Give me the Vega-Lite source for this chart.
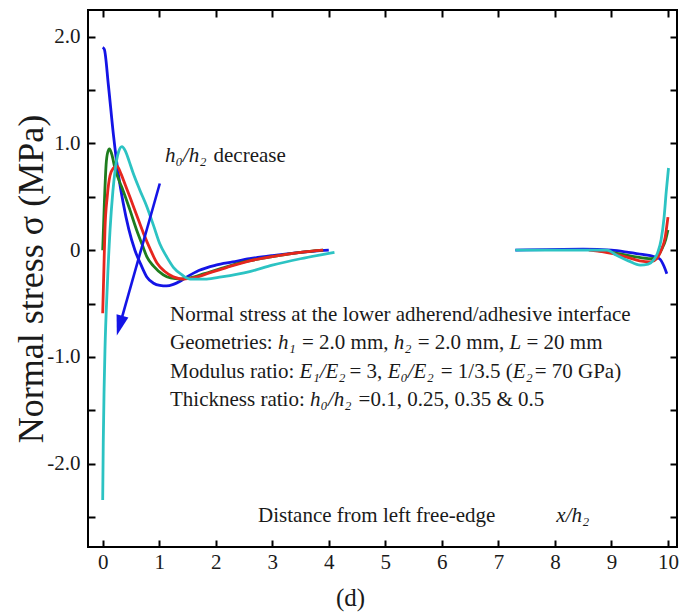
{
  "$schema": "https://vega.github.io/schema/vega-lite/v6.json",
  "width": 589,
  "height": 537,
  "autosize": "none",
  "padding": {"left": 88, "top": 10, "right": 5, "bottom": 67},
  "background": "white",
  "config": {
    "view": {"stroke": "black", "strokeWidth": 2},
    "font": "Liberation Serif",
    "axis": {
      "domain": false,
      "grid": false,
      "offset": -7,
      "tickColor": "black",
      "tickWidth": 2,
      "tickSize": 7,
      "labelFont": "Liberation Serif",
      "labelFontSize": 21,
      "labelColor": "#1a1a1a",
      "labelPadding": 8,
      "labelFlush": false,
      "labelOverlap": false,
      "labelBound": false,
      "titleFont": "Liberation Serif",
      "titleFontWeight": "normal",
      "titleColor": "#1a1a1a"
    },
    "text": {"font": "Liberation Serif", "fontSize": 21, "color": "#1a1a1a"}
  },
  "datasets": {
    "curves": [
      {"ratio": "0.1", "part": "L", "x": 0.0, "y": 1.90},
      {"ratio": "0.1", "part": "L", "x": 0.03, "y": 1.88},
      {"ratio": "0.1", "part": "L", "x": 0.1, "y": 1.55},
      {"ratio": "0.1", "part": "L", "x": 0.19, "y": 1.08},
      {"ratio": "0.1", "part": "L", "x": 0.28, "y": 0.70},
      {"ratio": "0.1", "part": "L", "x": 0.36, "y": 0.45},
      {"ratio": "0.1", "part": "L", "x": 0.46, "y": 0.20},
      {"ratio": "0.1", "part": "L", "x": 0.57, "y": 0.0},
      {"ratio": "0.1", "part": "L", "x": 0.68, "y": -0.14},
      {"ratio": "0.1", "part": "L", "x": 0.78, "y": -0.25},
      {"ratio": "0.1", "part": "L", "x": 0.9, "y": -0.31},
      {"ratio": "0.1", "part": "L", "x": 1.01, "y": -0.33},
      {"ratio": "0.1", "part": "L", "x": 1.13, "y": -0.335},
      {"ratio": "0.1", "part": "L", "x": 1.25, "y": -0.32},
      {"ratio": "0.1", "part": "L", "x": 1.37, "y": -0.29},
      {"ratio": "0.1", "part": "L", "x": 1.49, "y": -0.25},
      {"ratio": "0.1", "part": "L", "x": 1.7, "y": -0.19},
      {"ratio": "0.1", "part": "L", "x": 2.0, "y": -0.14},
      {"ratio": "0.1", "part": "L", "x": 2.3, "y": -0.11},
      {"ratio": "0.1", "part": "L", "x": 2.6, "y": -0.08},
      {"ratio": "0.1", "part": "L", "x": 3.0, "y": -0.05},
      {"ratio": "0.1", "part": "L", "x": 3.5, "y": -0.02},
      {"ratio": "0.1", "part": "L", "x": 4.0, "y": 0.0},
      {"ratio": "0.1", "part": "R", "x": 7.3, "y": 0.0},
      {"ratio": "0.1", "part": "R", "x": 8.5, "y": 0.01},
      {"ratio": "0.1", "part": "R", "x": 9.0, "y": 0.0},
      {"ratio": "0.1", "part": "R", "x": 9.3, "y": -0.02},
      {"ratio": "0.1", "part": "R", "x": 9.55, "y": -0.04},
      {"ratio": "0.1", "part": "R", "x": 9.75, "y": -0.06},
      {"ratio": "0.1", "part": "R", "x": 9.85, "y": -0.08},
      {"ratio": "0.1", "part": "R", "x": 9.93, "y": -0.15},
      {"ratio": "0.1", "part": "R", "x": 9.98, "y": -0.22},
      {"ratio": "0.25", "part": "L", "x": 0.0, "y": 0.0},
      {"ratio": "0.25", "part": "L", "x": 0.03, "y": 0.45},
      {"ratio": "0.25", "part": "L", "x": 0.06, "y": 0.8},
      {"ratio": "0.25", "part": "L", "x": 0.09, "y": 0.92},
      {"ratio": "0.25", "part": "L", "x": 0.12, "y": 0.95},
      {"ratio": "0.25", "part": "L", "x": 0.16, "y": 0.9},
      {"ratio": "0.25", "part": "L", "x": 0.22, "y": 0.76},
      {"ratio": "0.25", "part": "L", "x": 0.3, "y": 0.64},
      {"ratio": "0.25", "part": "L", "x": 0.36, "y": 0.56},
      {"ratio": "0.25", "part": "L", "x": 0.48, "y": 0.38},
      {"ratio": "0.25", "part": "L", "x": 0.6, "y": 0.19},
      {"ratio": "0.25", "part": "L", "x": 0.7, "y": 0.05},
      {"ratio": "0.25", "part": "L", "x": 0.78, "y": -0.06},
      {"ratio": "0.25", "part": "L", "x": 0.9, "y": -0.15},
      {"ratio": "0.25", "part": "L", "x": 1.07, "y": -0.23},
      {"ratio": "0.25", "part": "L", "x": 1.2, "y": -0.26},
      {"ratio": "0.25", "part": "L", "x": 1.37, "y": -0.27},
      {"ratio": "0.25", "part": "L", "x": 1.55, "y": -0.26},
      {"ratio": "0.25", "part": "L", "x": 1.8, "y": -0.22},
      {"ratio": "0.25", "part": "L", "x": 2.1, "y": -0.17},
      {"ratio": "0.25", "part": "L", "x": 2.5, "y": -0.11},
      {"ratio": "0.25", "part": "L", "x": 3.0, "y": -0.06},
      {"ratio": "0.25", "part": "L", "x": 3.5, "y": -0.02},
      {"ratio": "0.25", "part": "L", "x": 3.9, "y": 0.0},
      {"ratio": "0.25", "part": "R", "x": 8.7, "y": 0.0},
      {"ratio": "0.25", "part": "R", "x": 9.1, "y": -0.03},
      {"ratio": "0.25", "part": "R", "x": 9.4, "y": -0.06},
      {"ratio": "0.25", "part": "R", "x": 9.7, "y": -0.08},
      {"ratio": "0.25", "part": "R", "x": 9.82, "y": -0.05},
      {"ratio": "0.25", "part": "R", "x": 9.9, "y": 0.02},
      {"ratio": "0.25", "part": "R", "x": 9.96, "y": 0.1},
      {"ratio": "0.25", "part": "R", "x": 10.0, "y": 0.19},
      {"ratio": "0.35", "part": "L", "x": 0.0, "y": -0.59},
      {"ratio": "0.35", "part": "L", "x": 0.02, "y": -0.2},
      {"ratio": "0.35", "part": "L", "x": 0.04, "y": 0.19},
      {"ratio": "0.35", "part": "L", "x": 0.08, "y": 0.5},
      {"ratio": "0.35", "part": "L", "x": 0.13, "y": 0.7},
      {"ratio": "0.35", "part": "L", "x": 0.19, "y": 0.77},
      {"ratio": "0.35", "part": "L", "x": 0.25, "y": 0.79},
      {"ratio": "0.35", "part": "L", "x": 0.32, "y": 0.72},
      {"ratio": "0.35", "part": "L", "x": 0.4, "y": 0.61},
      {"ratio": "0.35", "part": "L", "x": 0.48, "y": 0.50},
      {"ratio": "0.35", "part": "L", "x": 0.6, "y": 0.33},
      {"ratio": "0.35", "part": "L", "x": 0.72, "y": 0.16},
      {"ratio": "0.35", "part": "L", "x": 0.84, "y": 0.01},
      {"ratio": "0.35", "part": "L", "x": 0.96, "y": -0.12},
      {"ratio": "0.35", "part": "L", "x": 1.1, "y": -0.2},
      {"ratio": "0.35", "part": "L", "x": 1.25, "y": -0.25},
      {"ratio": "0.35", "part": "L", "x": 1.43, "y": -0.27},
      {"ratio": "0.35", "part": "L", "x": 1.6, "y": -0.26},
      {"ratio": "0.35", "part": "L", "x": 1.9, "y": -0.21},
      {"ratio": "0.35", "part": "L", "x": 2.2, "y": -0.16},
      {"ratio": "0.35", "part": "L", "x": 2.6, "y": -0.1},
      {"ratio": "0.35", "part": "L", "x": 3.0, "y": -0.06},
      {"ratio": "0.35", "part": "L", "x": 3.5, "y": -0.02},
      {"ratio": "0.35", "part": "L", "x": 3.9, "y": 0.0},
      {"ratio": "0.35", "part": "R", "x": 8.6, "y": 0.0},
      {"ratio": "0.35", "part": "R", "x": 9.0, "y": -0.03},
      {"ratio": "0.35", "part": "R", "x": 9.3, "y": -0.07},
      {"ratio": "0.35", "part": "R", "x": 9.5, "y": -0.1},
      {"ratio": "0.35", "part": "R", "x": 9.69, "y": -0.11},
      {"ratio": "0.35", "part": "R", "x": 9.8, "y": -0.08},
      {"ratio": "0.35", "part": "R", "x": 9.88, "y": 0.0},
      {"ratio": "0.35", "part": "R", "x": 9.95, "y": 0.12},
      {"ratio": "0.35", "part": "R", "x": 10.0, "y": 0.31},
      {"ratio": "0.5", "part": "L", "x": 0.0, "y": -2.34},
      {"ratio": "0.5", "part": "L", "x": 0.01, "y": -1.8},
      {"ratio": "0.5", "part": "L", "x": 0.025, "y": -1.3},
      {"ratio": "0.5", "part": "L", "x": 0.04, "y": -0.94},
      {"ratio": "0.5", "part": "L", "x": 0.08, "y": -0.35},
      {"ratio": "0.5", "part": "L", "x": 0.13, "y": 0.19},
      {"ratio": "0.5", "part": "L", "x": 0.18, "y": 0.55},
      {"ratio": "0.5", "part": "L", "x": 0.22, "y": 0.75},
      {"ratio": "0.5", "part": "L", "x": 0.28, "y": 0.92},
      {"ratio": "0.5", "part": "L", "x": 0.34, "y": 0.97},
      {"ratio": "0.5", "part": "L", "x": 0.4, "y": 0.93},
      {"ratio": "0.5", "part": "L", "x": 0.47, "y": 0.83},
      {"ratio": "0.5", "part": "L", "x": 0.54, "y": 0.72},
      {"ratio": "0.5", "part": "L", "x": 0.66, "y": 0.56},
      {"ratio": "0.5", "part": "L", "x": 0.78, "y": 0.41},
      {"ratio": "0.5", "part": "L", "x": 0.9, "y": 0.23},
      {"ratio": "0.5", "part": "L", "x": 1.01, "y": 0.06},
      {"ratio": "0.5", "part": "L", "x": 1.13, "y": -0.06},
      {"ratio": "0.5", "part": "L", "x": 1.25, "y": -0.16},
      {"ratio": "0.5", "part": "L", "x": 1.4, "y": -0.23},
      {"ratio": "0.5", "part": "L", "x": 1.55, "y": -0.27},
      {"ratio": "0.5", "part": "L", "x": 1.84, "y": -0.27},
      {"ratio": "0.5", "part": "L", "x": 2.1, "y": -0.25},
      {"ratio": "0.5", "part": "L", "x": 2.6, "y": -0.2},
      {"ratio": "0.5", "part": "L", "x": 3.0, "y": -0.14},
      {"ratio": "0.5", "part": "L", "x": 3.5, "y": -0.08},
      {"ratio": "0.5", "part": "L", "x": 4.0, "y": -0.03},
      {"ratio": "0.5", "part": "L", "x": 4.1, "y": -0.02},
      {"ratio": "0.5", "part": "R", "x": 7.3, "y": 0.0},
      {"ratio": "0.5", "part": "R", "x": 8.6, "y": 0.0},
      {"ratio": "0.5", "part": "R", "x": 8.92, "y": 0.0},
      {"ratio": "0.5", "part": "R", "x": 9.1, "y": -0.05},
      {"ratio": "0.5", "part": "R", "x": 9.3, "y": -0.1},
      {"ratio": "0.5", "part": "R", "x": 9.51, "y": -0.14},
      {"ratio": "0.5", "part": "R", "x": 9.65, "y": -0.13},
      {"ratio": "0.5", "part": "R", "x": 9.75, "y": -0.09},
      {"ratio": "0.5", "part": "R", "x": 9.82, "y": -0.02},
      {"ratio": "0.5", "part": "R", "x": 9.88, "y": 0.1},
      {"ratio": "0.5", "part": "R", "x": 9.93, "y": 0.3},
      {"ratio": "0.5", "part": "R", "x": 9.97, "y": 0.55},
      {"ratio": "0.5", "part": "R", "x": 10.01, "y": 0.77}
    ],
    "arrow": [
      {"x": 1.01, "y": 0.625},
      {"x": 0.3, "y": -0.707}
    ],
    "head": [
      {"x": 0.3, "y": -0.707}
    ],
    "plain": [
      {"x": 1.961, "y": 0.825, "label": "decrease"},
      {"x": 1.191, "y": -0.663, "label": "Normal stress at the lower adherend/adhesive interface"},
      {"x": 1.191, "y": -0.928, "label": "Geometries:"},
      {"x": 3.526, "y": -0.928, "label": "= 2.0 mm,"},
      {"x": 5.573, "y": -0.928, "label": "= 2.0 mm,"},
      {"x": 7.497, "y": -0.928, "label": "= 20 mm"},
      {"x": 1.191, "y": -1.193, "label": "Modulus ratio:"},
      {"x": 4.366, "y": -1.193, "label": "= 3,"},
      {"x": 5.981, "y": -1.193, "label": "= 1/3.5 ("},
      {"x": 7.642, "y": -1.193, "label": "= 70 GPa)"},
      {"x": 1.191, "y": -1.459, "label": "Thickness ratio:"},
      {"x": 4.527, "y": -1.459, "label": "=0.1, 0.25, 0.35 & 0.5"},
      {"x": 2.749, "y": -2.55, "label": "Distance from left free-edge"}
    ],
    "italic": [
      {"x": 1.103, "y": 0.825, "label": "h₀/h₂"},
      {"x": 3.101, "y": -0.928, "label": "h₁"},
      {"x": 5.15, "y": -0.928, "label": "h₂"},
      {"x": 7.198, "y": -0.928, "label": "L"},
      {"x": 3.483, "y": -1.193, "label": "E₁/E₂"},
      {"x": 5.041, "y": -1.193, "label": "E₀/E₂"},
      {"x": 7.253, "y": -1.193, "label": "E₂"},
      {"x": 3.669, "y": -1.459, "label": "h₀/h₂"},
      {"x": 8.025, "y": -2.55, "label": "x/h₂"}
    ]
  },
  "resolve": {"axis": {"x": "independent", "y": "independent"}},
  "layer": [
    {
      "data": {"name": "curves"},
      "mark": {"type": "line", "strokeWidth": 2.8, "interpolate": "monotone"},
      "encoding": {
        "x": {
          "field": "x", "type": "quantitative",
          "scale": {"domain": [-0.26, 10.16], "nice": false, "zero": false},
          "axis": {
            "orient": "bottom",
            "values": [0, 1, 2, 3, 4, 5, 6, 7, 8, 9, 10],
            "format": "d",
            "labelPadding": 4,
            "title": "(d)",
            "titleFontSize": 25,
            "titleX": 262,
            "titleY": 57,
            "titleAlign": "center",
            "titleBaseline": "middle",
            "titleAnchor": null
          }
        },
        "y": {
          "field": "y", "type": "quantitative",
          "scale": {"domain": [-2.78, 2.25], "nice": false, "zero": false},
          "axis": {
            "orient": "left",
            "values": [-2.5, -2, -1.5, -1, -0.5, 0, 0.5, 1, 1.5, 2],
            "labelExpr": "datum.value % 1 != 0 ? '' : (datum.value == 0 ? '0' : (datum.value < 0 ? '-' : '') + format(abs(datum.value), '.1f'))",
            "title": "Normal stress σ (MPa)",
            "titleFontSize": 36,
            "titlePadding": -4
          }
        },
        "color": {
          "field": "ratio", "type": "nominal",
          "scale": {"domain": ["0.1", "0.25", "0.35", "0.5"], "range": ["#1414e6", "#1e7d1e", "#e6261e", "#2cc3c3"]},
          "legend": null
        },
        "detail": {"field": "part"}
      }
    },
    {
      "mark": {"type": "rule", "color": "#c416c4", "strokeWidth": 2.6},
      "encoding": {"y": {"datum": 0, "type": "quantitative", "axis": null}}
    },
    {
      "data": {"name": "arrow"},
      "mark": {"type": "line", "color": "#1414e6", "strokeWidth": 2.6},
      "encoding": {
        "x": {"field": "x", "type": "quantitative", "axis": {"orient": "top", "values": [0, 1, 2, 3, 4, 5, 6, 7, 8, 9, 10], "labels": false, "title": null}},
        "y": {"field": "y", "type": "quantitative", "axis": {"orient": "right", "values": [-2.5, -2, -1.5, -1, -0.5, 0, 0.5, 1, 1.5, 2], "labels": false, "title": null}}
      }
    },
    {
      "data": {"name": "head"},
      "mark": {"type": "point", "shape": "M0,-1L0.6,1L-0.6,1Z", "filled": true, "color": "#1414e6", "opacity": 1, "size": 420, "angle": 196},
      "encoding": {
        "x": {"field": "x", "type": "quantitative", "axis": null},
        "y": {"field": "y", "type": "quantitative", "axis": null}
      }
    },
    {
      "data": {"name": "plain"},
      "mark": {"type": "text", "align": "left", "baseline": "alphabetic"},
      "encoding": {
        "x": {"field": "x", "type": "quantitative", "axis": null},
        "y": {"field": "y", "type": "quantitative", "axis": null},
        "text": {"field": "label"}
      }
    },
    {
      "data": {"name": "italic"},
      "mark": {"type": "text", "align": "left", "baseline": "alphabetic", "fontStyle": "italic"},
      "encoding": {
        "x": {"field": "x", "type": "quantitative", "axis": null},
        "y": {"field": "y", "type": "quantitative", "axis": null},
        "text": {"field": "label"}
      }
    }
  ]
}
